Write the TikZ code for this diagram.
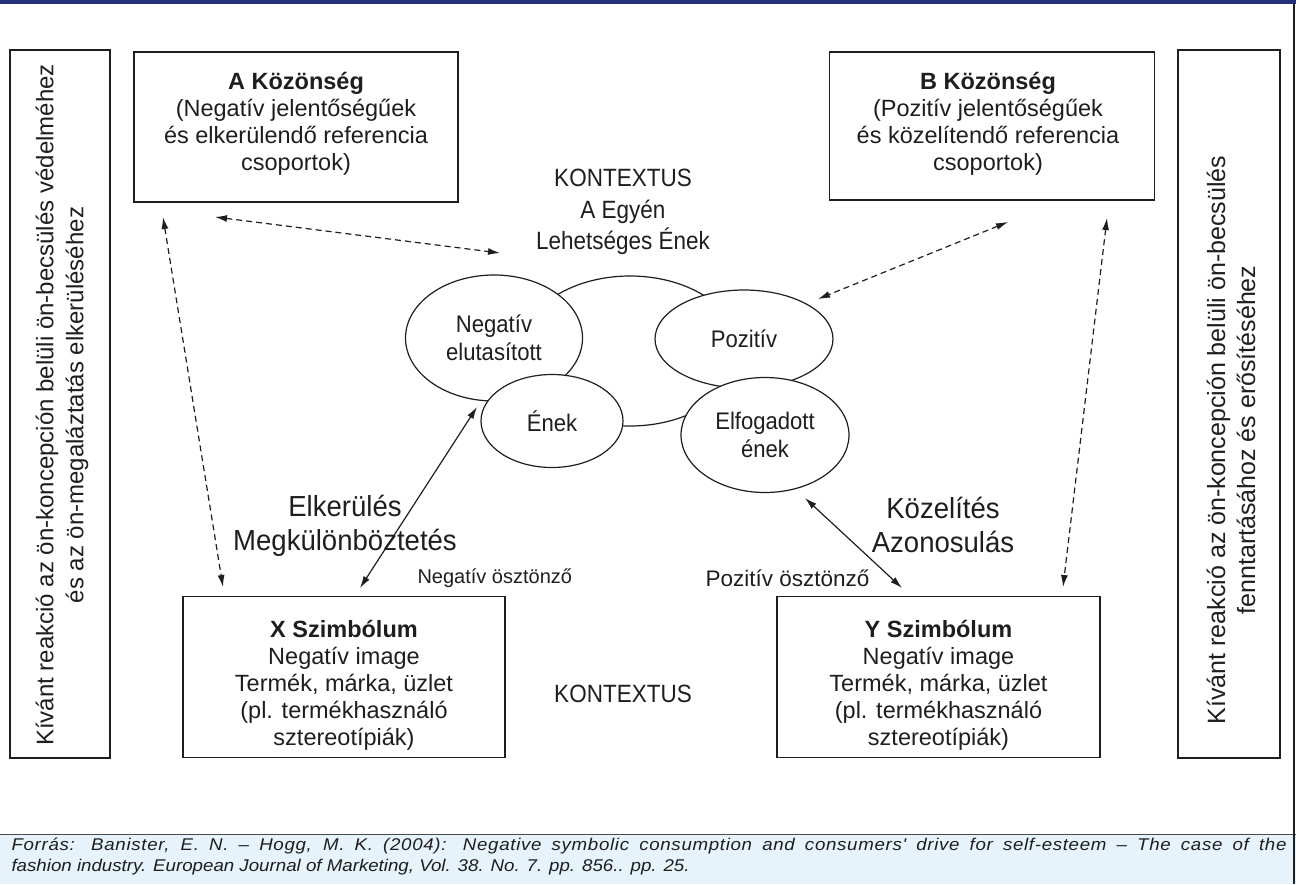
\documentclass[tikz,border=0pt]{standalone}
\usepackage{fontspec}
\setmainfont{Liberation Sans}
\newfontfamily\fctr[FakeStretch=0.9]{Liberation Sans}
\newfontfamily\fell[FakeStretch=0.92]{Liberation Sans}
\newfontfamily\fbig[FakeStretch=0.95]{Liberation Sans}
\newfontfamily\ffoot[FakeStretch=1.1]{Liberation Sans}
\newfontfamily\ffootw[FakeStretch=1.1,LetterSpace=4]{Liberation Sans}
\usetikzlibrary{arrows.meta,shapes.geometric}
\definecolor{navybar}{RGB}{38,48,120}
\definecolor{footbg}{RGB}{231,243,250}
\definecolor{inkc}{RGB}{30,30,30}
\begin{document}
\begin{tikzpicture}[x=1pt,y=-1pt,
  frame/.style={draw=inkc, line width=1.3pt, minimum width=#1},
  boxtxt/.style={align=center, font=\fontsize{23.5}{27}\selectfont, text=inkc},
  mid/.style={align=center, font=\fctr\fontsize{25}{31.5}\selectfont, text=inkc},
  big/.style={align=center, font=\fbig\fontsize{29}{34}\selectfont, text=inkc},
  small/.style={font=\fontsize{#1}{24}\selectfont, text=inkc},
  vert/.style={align=center, rotate=90, font=\fontsize{#1}{30}\selectfont, text=inkc},
  ell/.style={draw=inkc, ellipse, line width=1.2pt, fill=white, inner sep=0pt, align=center,
     font=\fell\fontsize{24}{28}\selectfont, text=inkc},
  tipx/.tip={Latex[length=12pt,width=7pt]},
  darr/.style={draw=inkc, line width=1.2pt, dash pattern=on 6pt off 4pt, tipx-tipx},
  sarr/.style={draw=inkc, line width=1.2pt, tipx-tipx}
]
\useasboundingbox (0,0) rectangle (1296,884);
% background bars
\fill[footbg] (0,834) rectangle (1296,884);
\fill[navybar] (0,0) rectangle (1296,4);
\draw[inkc!80, line width=0.8pt] (0,834) -- (1296,834);
\draw[inkc, line width=1.2pt] (1294,4) -- (1294,884);

% side boxes
\node[frame=100pt, minimum height=708pt] (lbox) at (60,404) {};
\node[frame=102pt, minimum height=708pt] (rbox) at (1229,404) {};
\node[vert=24] (ltxt) at (62,405) {Kívánt reakció az ön-koncepción belüli ön-becsülés védelméhez\\és az ön-megaláztatás elkerüléséhez};
\node[vert=25] (rtxt) at (1231,440) {Kívánt reakció az ön-koncepción belüli ön-becsülés\\fenntartásához és erősítéséhez};

% top boxes
\node[frame=324pt, minimum height=150pt] (abox) at (296,127) {};
\node[boxtxt] (atxt) at (296,124) {\textbf{A Közönség}\\(Negatív jelentőségűek\\és elkerülendő referencia\\csoportok)};
\node[frame=325pt, minimum height=148pt] (bbox) at (992,126) {};
\node[boxtxt] (btxt) at (988,124) {\textbf{B Közönség}\\(Pozitív jelentőségűek\\és közelítendő referencia\\csoportok)};

% bottom boxes
\node[frame=322pt, minimum height=161pt] (xbox) at (344,677) {};
\node[boxtxt] (xtxt) at (344,685) {\textbf{X Szimbólum}\\Negatív image\\Termék, márka, üzlet\\(pl. termékhasználó\\sztereotípiák)};
\node[frame=323pt, minimum height=161pt] (ybox) at (938.5,677) {};
\node[boxtxt] (ytxt) at (938.5,685) {\textbf{Y Szimbólum}\\Negatív image\\Termék, márka, üzlet\\(pl. termékhasználó\\sztereotípiák)};

% centre texts
\node[mid] (ctx) at (623,212) {KONTEXTUS\\A Egyén\\Lehetséges Ének};
\node[mid] (ctx2) at (623,694) {KONTEXTUS};

% ellipses
\node[ell, minimum width=220pt, minimum height=150pt] (cent) at (630,351) {};
\node[ell, minimum width=177pt, minimum height=126pt] (neg) at (494,338) {Negatív\\elutasított};
\node[ell, minimum width=178pt, minimum height=98pt] (poz) at (744,339) {Pozitív};
\node[ell, minimum width=142pt, minimum height=93pt] (enek) at (552,421) {Ének};
\node[ell, minimum width=168pt, minimum height=115pt] (elf) at (765,435) {Elfogadott\\ének};

% arrow end points
\coordinate (a1) at (215,217);
\coordinate (a2) at (500,253);
\coordinate (l1) at (163,217);
\coordinate (l2) at (223,587);
\coordinate (b1) at (1008,222);
\coordinate (b2) at (818,299);
\coordinate (r1) at (1107,218);
\coordinate (r2) at (1063,587);
\coordinate (s1) at (477,407);
\coordinate (s2) at (360,588);
\coordinate (t1) at (805,498);
\coordinate (t2) at (902,588);

\draw[darr] (a1) -- (a2);
\draw[darr] (l1) -- (l2);
\draw[darr] (b1) -- (b2);
\draw[darr] (r1) -- (r2);
\draw[sarr] (s1) -- (s2);
\draw[sarr] (t1) -- (t2);

% arrow labels
\node[big] (elk) at (345,526) {Elkerülés\\Megkülönböztetés};
\node[big] (koz) at (943,525) {Közelítés\\Azonosulás};
\node[small=20, anchor=west] (negoszt) at (414,578) {Negatív ösztönző};
\node[small=22.5, anchor=west] (pozoszt) at (702,578) {Pozitív ösztönző};

% footer
\node[anchor=west, align=left, font=\ffoot\fontsize{17}{21}\selectfont\itshape, text=inkc] (foot) at (8,856.5)
 {\makebox[1275pt][s]{\ffootw\itshape Forrás: Banister, E. N. – Hogg, M. K. (2004): Negative symbolic consumption and consumers' drive for self-esteem – The case of the}\\fashion industry. European Journal of Marketing, Vol. 38. No. 7. pp. 856.. pp. 25.};
\end{tikzpicture}
\end{document}
